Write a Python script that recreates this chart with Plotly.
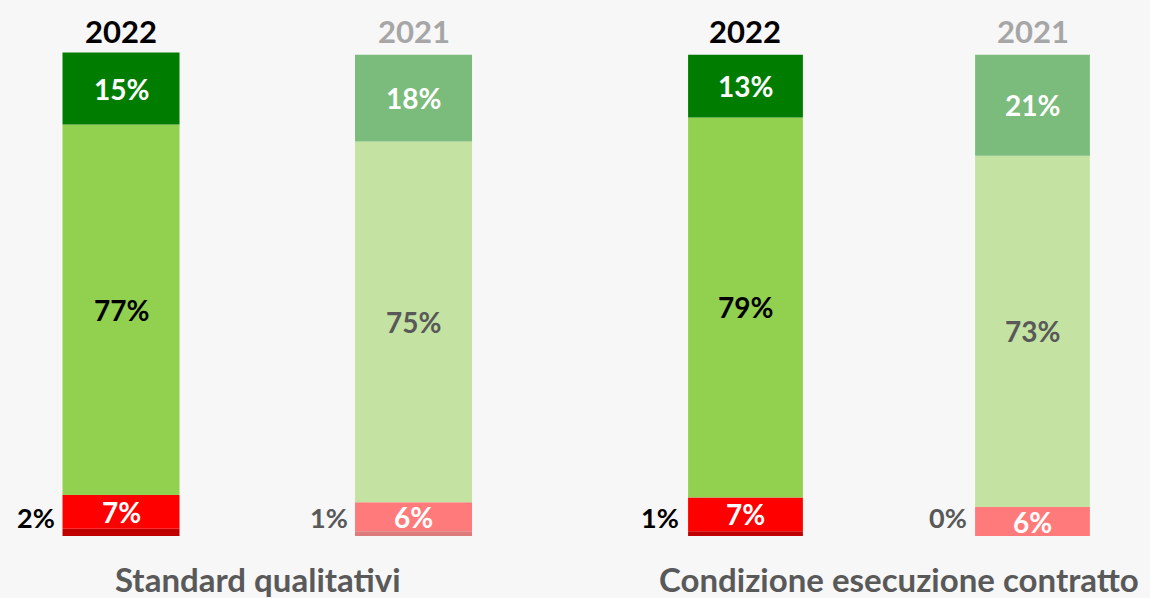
import plotly.graph_objects as go

# ---- data ----
years = ["2022", "2021"]
groups = ["Standard qualitativi", "Condizione esecuzione contratto"]
# per group, per year: [dark red, red, green, dark green]
segment_names = ["Molto insoddisfatto", "Insoddisfatto", "Soddisfatto", "Molto soddisfatto"]
std_2022 = [1.5, 7, 77, 15]
std_2021 = [1, 6, 75, 18]
cond_2022 = [1, 7, 79, 13]
cond_2021 = [0, 6, 73, 21]

colors_2022 = ["#C00000", "#FF0000", "#92D050", "#007D00"]
colors_2021 = ["#DB7B7B", "#FF7B7B", "#C4E3A3", "#7BBB7B"]

BG = "#F7F7F7"
FONT = "Lato"

fig = go.Figure()
data = {
    ("x", "y"): [std_2022, std_2021],
    ("x2", "y2"): [cond_2022, cond_2021],
}

def fmt(v):
    return f"<b>{int(v + 0.5)}%</b>"

ann = []
for (xa, ya), series in data.items():
    for yi, (yr, vals) in enumerate(zip(years, series)):
        cols = colors_2022 if yr == "2022" else colors_2021
        base = 0
        for si, v in enumerate(vals):
            fig.add_trace(go.Bar(
                x=[yr], y=[v], base=[base], name=segment_names[si],
                marker=dict(color=cols[si], line=dict(width=0)),
                width=0.4, xaxis=xa, yaxis=ya, showlegend=False,
                hoverinfo="skip"))
            mid = base + v / 2
            if si == 0:
                ann.append(dict(x=yi, y=0, xref=xa, yref=ya, text=fmt(v),
                                showarrow=False, xanchor="right", yanchor="bottom",
                                xshift=-64,
                                font=dict(family=FONT, size=27,
                                          color="#000000" if yr == "2022" else "#595959")))
            elif si == 2:
                ann.append(dict(x=yi, y=mid, xref=xa, yref=ya, text=fmt(v),
                                showarrow=False, xanchor="center", yanchor="middle",
                                font=dict(family=FONT, size=28,
                                          color="#000000" if yr == "2022" else "#595959")))
            else:
                ann.append(dict(x=yi, y=mid, xref=xa, yref=ya, text=fmt(v),
                                showarrow=False, xanchor="center", yanchor="middle",
                                font=dict(family=FONT, size=28, color="#FFFFFF")))
            base += v
        ann.append(dict(x=yi, y=105, xref=xa, yref=ya, text=f"<b>{yr}</b>",
                        showarrow=False, xanchor="center", yanchor="middle",
                        font=dict(family=FONT, size=31,
                                  color="#000000" if yr == "2022" else "#A6A6A6")))

ann.append(dict(x=258 / 1150, y=-9.0, xref="paper", yref="y", text=f"<b>{groups[0]}</b>",
                showarrow=False, xanchor="center", yanchor="middle",
                font=dict(family=FONT, size=33, color="#595959")))
ann.append(dict(x=899 / 1150, y=-9.0, xref="paper", yref="y", text=f"<b>{groups[1]}</b>",
                showarrow=False, xanchor="center", yanchor="middle",
                font=dict(family=FONT, size=33, color="#595959")))

yr_range = [-12.9, 111.4]
axis_common = dict(showgrid=False, zeroline=False, showticklabels=False, showline=False,
                   type="category", categoryorder="array", categoryarray=years)
fig.update_layout(
    width=1150, height=598,
    margin=dict(l=0, r=0, t=0, b=0),
    paper_bgcolor=BG, plot_bgcolor=BG,
    barmode="overlay",
    xaxis=dict(domain=[0, 0.5], range=[-0.4137, 1.552], **axis_common),
    xaxis2=dict(domain=[0.5, 1], range=[-0.594, 1.4094], **axis_common),
    yaxis=dict(domain=[0, 1], range=yr_range, showgrid=False, zeroline=False,
               showticklabels=False, anchor="x"),
    yaxis2=dict(domain=[0, 1], range=yr_range, showgrid=False, zeroline=False,
                showticklabels=False, anchor="x2"),
    annotations=ann,
)

fig.write_html("out.html", config={"displayModeBar": False},
               post_script="document.body.style.margin='0';document.body.style.overflow='hidden';")
